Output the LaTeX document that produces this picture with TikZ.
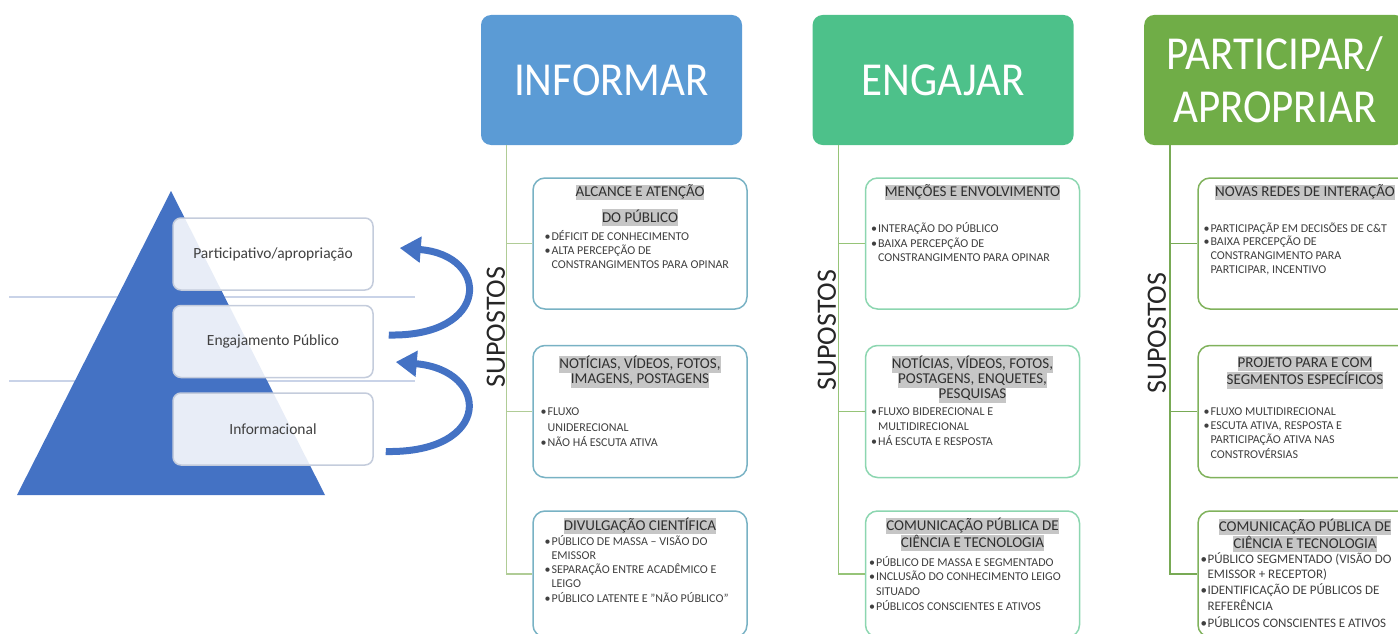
\documentclass[tikz,border=0pt]{standalone}
\usepackage{fontspec}
\setmainfont{Carlito}
\usepackage{xcolor}
\usepackage{graphicx}
\usepackage{tikz}
\usetikzlibrary{positioning}
\usetikzlibrary{arrows.meta}

\definecolor{pyrblue}{RGB}{68,114,196}
\definecolor{guideline}{RGB}{201,211,232}
\definecolor{levelline}{RGB}{196,204,220}
\definecolor{infoblue}{RGB}{91,155,213}
\definecolor{enggreen}{RGB}{77,193,138}
\definecolor{partgreen}{RGB}{112,173,71}
\definecolor{infoline}{RGB}{120,178,196}
\definecolor{engline}{RGB}{140,214,176}
\definecolor{partline}{RGB}{128,178,92}
\definecolor{infospine}{RGB}{176,204,150}
\definecolor{engspine}{RGB}{150,196,120}
\definecolor{partspine}{RGB}{120,170,85}
\definecolor{hlgray}{RGB}{198,198,198}
\definecolor{textgray}{RGB}{64,64,64}
\definecolor{headgray}{RGB}{48,48,48}

\newcommand{\hlbar}[1]{{\setlength{\fboxsep}{0pt}\colorbox{hlgray}{\rule[-4pt]{0pt}{15pt}#1}}}
\newcommand{\bitem}{\strut\makebox[7pt][l]{\textbullet}}
\newcommand{\bcont}{\strut\hspace*{7pt}}
\newcommand{\tallcaps}[1]{\scalebox{1}[1.1]{#1}}

\tikzset{
  level box/.style={rectangle, rounded corners=8pt, draw=levelline, line width=1.5pt, fill=white, fill opacity=0.88, text opacity=1, minimum width=200pt, minimum height=72pt, text=textgray, font=\fontsize{15.5}{18}\selectfont},
  title box/.style={rectangle, rounded corners=10pt, fill=#1, minimum width=261pt, minimum height=130pt, inner sep=0pt, text=white, align=center, font=\fontsize{43}{53}\selectfont},
  sub box/.style={rectangle, rounded corners=12pt, draw=#1, line width=1.5pt, fill=white, minimum width=214pt, minimum height=131pt},
  head/.style={align=center, inner sep=0pt, text=headgray, font=\fontsize{15}{15}\selectfont},
  list/.style={align=left, inner sep=0pt, text=textgray, font=\fontsize{12}{14}\selectfont},
  side label/.style={rotate=90, inner sep=0pt, text=black!85, font=\fontsize{28}{30}\selectfont},
  branch/.style={to path={|- (\tikztotarget)}},
  lift/.style={draw=pyrblue, line width=7pt, -{Triangle[length=21pt,width=25pt]}},
}

\begin{document}
\begin{tikzpicture}[x=1pt, y=-1pt, node distance=14pt, semithick]
\useasboundingbox (0,0) rectangle (1398,634);
\clip (0,0) rectangle (1398,634);

\draw[guideline, line width=2pt] (9,297) -- (415,297);
\draw[guideline, line width=2pt] (9,381) -- (415,381);
\fill[pyrblue] (17,495) -- (325,495) -- (171,191) -- cycle;

\node[level box] (lp) at (273,254) {Participativo/apropriação};
\node[level box] (le) [below=of lp] {Engajamento Público};
\node[level box] (li) [below=of le] {Informacional};

\draw[lift] ([shift={(15,-6.5)}]le.east) .. controls +(102,2) and +(91,7) .. ([shift={(26,-6)}]lp.east);
\draw[lift] ([shift={(12,22.5)}]li.east) .. controls +(107,2) and +(95,8) .. ([shift={(22,20.5)}]le.east);

\node[title box=infoblue] (ti) at (611.5,80) {\tallcaps{INFORMAR}};
\node[title box=enggreen] (te) [right=70pt of ti] {\tallcaps{ENGAJAR}};
\node[title box=partgreen] (tp) [right=70pt of te] {\tallcaps{PARTICIPAR/}\\\tallcaps{APROPRIAR}};

\node[sub box=infoline] (i1) at (640,243.5) {};
\node[sub box=infoline, minimum height=132pt] (i2) [below=35pt of i1] {};
\node[sub box=infoline, minimum height=126pt] (i3) [below=32pt of i2] {};
\node[sub box=engline] (e1) [right=117pt of i1] {};
\node[sub box=engline, minimum height=132pt] (e2) [right=117pt of i2] {};
\node[sub box=engline, minimum height=126pt] (e3) [right=117pt of i3] {};
\node[sub box=partline] (p1) [right=117pt of e1] {};
\node[sub box=partline, minimum height=132pt] (p2) [right=117pt of e2] {};
\node[sub box=partline, minimum height=126pt] (p3) [right=117pt of e3] {};

\path[draw=infospine, line width=1.5pt]
  ([xshift=26pt]ti.south west) edge[branch] (i1.west)
  ([xshift=26pt]ti.south west) edge[branch] (i2.west)
  ([xshift=26pt]ti.south west) edge[branch] (i3.west);
\path[draw=engspine, line width=1.5pt]
  ([xshift=26pt]te.south west) edge[branch] (e1.west)
  ([xshift=26pt]te.south west) edge[branch] (e2.west)
  ([xshift=26pt]te.south west) edge[branch] (e3.west);
\path[draw=partspine, line width=1.5pt]
  ([xshift=26pt]tp.south west) edge[branch] (p1.west)
  ([xshift=26pt]tp.south west) edge[branch] (p2.west)
  ([xshift=26pt]tp.south west) edge[branch] (p3.west);

\node[side label] (si) at (496,327) {SUPOSTOS};
\node[side label] (se) at (827,330) {SUPOSTOS};
\node[side label] (sp) at (1157,333) {SUPOSTOS};

\node[head] (i1h) [below=7pt of i1.north] {\hlbar{ALCANCE E ATENÇÃO}\\[8pt]\hlbar{DO PÚBLICO}};
\node[head] (i2h) [below=11pt of i2.north] {\hlbar{NOTÍCIAS, VÍDEOS, FOTOS,}\\\hlbar{IMAGENS, POSTAGENS}};
\node[head] (i3h) [below=7pt of i3.north] {\hlbar{DIVULGAÇÃO CIENTÍFICA}};
\node[head] (e1h) [below=7pt of e1.north] {\hlbar{MENÇÕES E ENVOLVIMENTO}};
\node[head] (e2h) [below=11pt of e2.north] {\hlbar{NOTÍCIAS, VÍDEOS, FOTOS,}\\\hlbar{POSTAGENS, ENQUETES,}\\\hlbar{PESQUISAS}};
\node[head] (e3h) [below=7pt of e3.north] {\hlbar{COMUNICAÇÃO PÚBLICA DE}\\\hlbar{CIÊNCIA E TECNOLOGIA}};
\node[head] (p1h) [below=7pt of p1.north] {\hlbar{NOVAS REDES DE INTERAÇÃO}};
\node[head] (p2h) [below=11pt of p2.north] {\hlbar{PROJETO PARA E COM}\\\hlbar{SEGMENTOS ESPECÍFICOS}};
\node[head] (p3h) [below=8pt of p3.north] {\hlbar{COMUNICAÇÃO PÚBLICA DE}\\\hlbar{CIÊNCIA E TECNOLOGIA}};

\node[list] (i1l) [below right=53pt and 12pt of i1.north west] {\bitem DÉFICIT DE CONHECIMENTO\\\bitem ALTA PERCEPÇÃO DE\\\bcont CONSTRANGIMENTOS PARA OPINAR};
\node[list, font=\fontsize{12}{15.5}\selectfont] (i2l) [below right=60pt and 8pt of i2.north west] {\bitem FLUXO\\\bcont UNIDERECIONAL\\\bitem NÃO HÁ ESCUTA ATIVA};
\node[list, font=\fontsize{12}{13.5}\selectfont] (i3l) [below right=25pt and 12pt of i3.north west] {\bitem PÚBLICO DE MASSA – VISÃO DO\\\bcont EMISSOR\\\bitem SEPARAÇÃO ENTRE ACADÊMICO E\\\bcont LEIGO\\\bitem PÚBLICO LATENTE E "NÃO PÚBLICO"};
\node[list, font=\fontsize{12}{14.5}\selectfont] (e1l) [below right=45pt and 6pt of e1.north west] {\bitem INTERAÇÃO DO PÚBLICO\\\bitem BAIXA PERCEPÇÃO DE\\\bcont CONSTRANGIMENTO PARA OPINAR};
\node[list, font=\fontsize{12}{15}\selectfont] (e2l) [below right=60pt and 6pt of e2.north west] {\bitem FLUXO BIDERECIONAL E\\\bcont MULTIDIRECIONAL\\\bitem HÁ ESCUTA E RESPOSTA};
\node[list, font=\fontsize{12}{14.3}\selectfont] (e3l) [below right=46pt and 4pt of e3.north west] {\bitem PÚBLICO DE MASSA E SEGMENTADO\\\bitem INCLUSÃO DO CONHECIMENTO LEIGO\\\bcont SITUADO\\\bitem PÚBLICOS CONSCIENTES E ATIVOS};
\node[list, font=\fontsize{12}{13.7}\selectfont] (p1l) [below right=45pt and 6pt of p1.north west] {\bitem PARTICIPAÇÃP EM DECISÕES DE C\&T\\\bitem BAIXA PERCEPÇÃO DE\\\bcont CONSTRANGIMENTO PARA\\\bcont PARTICIPAR, INCENTIVO};
\node[list, font=\fontsize{12}{13.7}\selectfont] (p2l) [below right=61pt and 6pt of p2.north west] {\bitem FLUXO MULTIDIRECIONAL\\\bitem ESCUTA ATIVA, RESPOSTA E\\\bcont PARTICIPAÇÃO ATIVA NAS\\\bcont CONSTROVÉRSIAS};
\node[list, font=\fontsize{13}{15}\selectfont] (p3l) [below right=42pt and 3pt of p3.north west] {\bitem PÚBLICO SEGMENTADO (VISÃO DO\\\bcont EMISSOR + RECEPTOR)\\\bitem IDENTIFICAÇÃO DE PÚBLICOS DE\\\bcont REFERÊNCIA\\\bitem PÚBLICOS CONSCIENTES E ATIVOS};
\end{tikzpicture}
\end{document}
